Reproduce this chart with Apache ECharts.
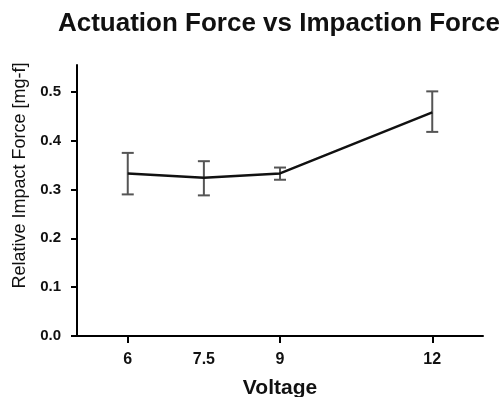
<!DOCTYPE html>
<html><head><meta charset="utf-8">
<script src="https://cdn.jsdelivr.net/npm/echarts@6/dist/echarts.min.js"></script>
<style>html,body{margin:0;padding:0;background:#fff}#c{width:502px;height:397px}</style>
</head><body><div id="c"></div>
<script>
const voltages = [6, 7.5, 9, 12];
const meanForce = [0.333, 0.324, 0.333, 0.458];
const errLow = [0.290, 0.288, 0.320, 0.418];
const errHigh = [0.375, 0.358, 0.345, 0.501];
const xLabelValues = [6, 7.5, 9, 12];
const xTickValues = [6, 9, 12];
const yTickValues = [0, 0.1, 0.2, 0.3, 0.4, 0.5];

const font = 'Liberation Sans, Arial, sans-serif';
const chart = echarts.init(document.getElementById('c'), null, {renderer: 'canvas'});
chart.setOption({
  animation: false,
  title: {
    text: 'Actuation Force vs Impaction Force',
    left: 274, top: 6, textAlign: 'center',
    textStyle: {fontFamily: font, fontWeight: 'bold', fontSize: 26, color: '#111'}
  },
  grid: {left: 77, right: 19, top: 65, bottom: 61, outerBoundsMode: 'none', containLabel: false},
  xAxis: {
    type: 'value', min: 5, max: 13,
    name: 'Voltage', nameLocation: 'middle', nameGap: 42,
    nameTextStyle: {fontFamily: font, fontSize: 21, color: '#111', fontWeight: 'bold'},
    axisLine: {lineStyle: {color: '#000', width: 2}},
    axisTick: {show: true, length: 7, lineStyle: {color: '#000', width: 2}, customValues: xTickValues},
    axisLabel: {fontFamily: font, fontSize: 16, color: '#111', fontWeight: 'bold', margin: 16,
      customValues: xLabelValues, formatter: v => String(v)},
    splitLine: {show: false}
  },
  yAxis: {
    type: 'value', min: 0, max: 0.555,
    name: 'Relative Impact Force [mg-f]', nameLocation: 'middle', nameGap: 45, nameRotate: 90,
    nameTextStyle: {fontFamily: font, fontSize: 18, color: '#111', padding: [0, 0, 0, 50]},
    axisLine: {show: true, lineStyle: {color: '#000', width: 2}},
    axisTick: {show: true, length: 6, lineStyle: {color: '#000', width: 2}, customValues: yTickValues},
    axisLabel: {fontFamily: font, fontSize: 15, color: '#111', fontWeight: 'bold', margin: 16,
      customValues: yTickValues, formatter: v => v.toFixed(1)},
    splitLine: {show: false}
  },
  series: [
    {
      type: 'line', data: voltages.map((v, i) => [v, meanForce[i]]),
      symbol: 'none', lineStyle: {color: '#111', width: 2.5}, z: 3
    },
    {
      type: 'custom', z: 2,
      data: voltages.map((v, i) => [v, errLow[i], errHigh[i]]),
      renderItem: function (params, api) {
        const lo = api.coord([api.value(0), api.value(1)]);
        const hi = api.coord([api.value(0), api.value(2)]);
        const hw = 6;
        const st = {stroke: '#555', lineWidth: 2};
        return {type: 'group', children: [
          {type: 'line', shape: {x1: lo[0], y1: lo[1], x2: hi[0], y2: hi[1]}, style: st},
          {type: 'line', shape: {x1: lo[0] - hw, y1: lo[1], x2: lo[0] + hw, y2: lo[1]}, style: st},
          {type: 'line', shape: {x1: hi[0] - hw, y1: hi[1], x2: hi[0] + hw, y2: hi[1]}, style: st}
        ]};
      }
    }
  ]
});
</script></body></html>
